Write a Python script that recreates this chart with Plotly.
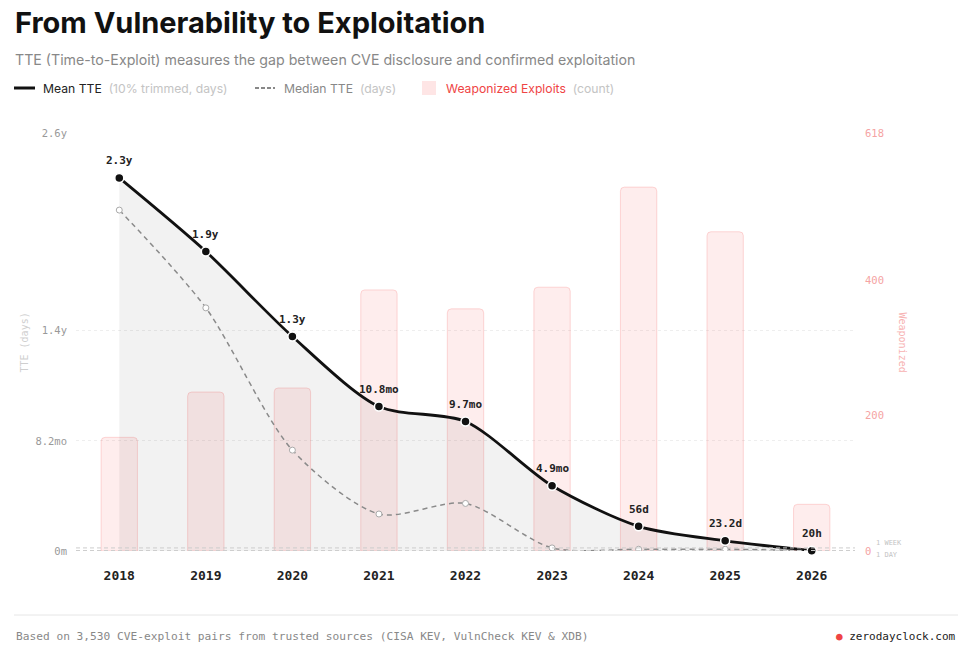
import plotly.graph_objects as go

# ---------------- data ----------------
years = ["2018", "2019", "2020", "2021", "2022", "2023", "2024", "2025", "2026"]
mean_tte_days = [847, 680, 487, 328, 294, 148, 56, 23.2, 0.83]
mean_labels = ["2.3y", "1.9y", "1.3y", "10.8mo", "9.7mo", "4.9mo", "56d", "23.2d", "20h"]
median_tte_days = [774, 552, 229, 84, 108, 7, 4, 4, 0.5]
weaponized_counts = [168, 235, 241, 386, 358, 390, 538, 472, 69]

days_tickvals = [0, 250, 500, 949]
days_ticktext = ["0m", "8.2mo", "1.4y", "2.6y"]
count_tickvals = [0, 200, 400, 618]
count_ticktext = ["0", "200", "400", "618"]
ref_lines = [7, 1]
ref_labels = ["1 WEEK", "1 DAY"]

W, H = 975, 653
def px(x):
    return x / W
def py(y):
    return 1 - y / H

MONO = "DejaVu Sans Mono"
SANS = "Inter"

fig = go.Figure()

# bars (primary y axis, right side, counts)
fig.add_trace(go.Bar(
    x=years, y=weaponized_counts, yaxis="y",
    width=0.42,
    marker=dict(color="rgba(248,113,113,0.13)",
                line=dict(color="rgba(248,113,113,0.25)", width=1),
                cornerradius=4),
    hoverinfo="skip", showlegend=False,
))

# mean TTE with fill
fig.add_trace(go.Scatter(
    x=years, y=mean_tte_days, yaxis="y2",
    mode="lines", line=dict(color="#111111", width=2.8, shape="spline", smoothing=0.8),
    fill="tozeroy", fillcolor="rgba(0,0,0,0.05)",
    hoverinfo="skip", showlegend=False,
))

# median TTE dashed
fig.add_trace(go.Scatter(
    x=years, y=median_tte_days, yaxis="y2",
    mode="lines+markers",
    line=dict(color="#8a8a8a", width=1.5, dash="5px,4px", shape="spline", smoothing=0.8),
    marker=dict(size=6, color="white", line=dict(color="#aaaaaa", width=1)),
    hoverinfo="skip", showlegend=False,
))

# mean markers on top
fig.add_trace(go.Scatter(
    x=years, y=mean_tte_days, yaxis="y2",
    mode="markers",
    marker=dict(size=9, color="#111111", line=dict(color="white", width=1.5)),
    hoverinfo="skip", showlegend=False, cliponaxis=False,
))

annotations = []
shapes = []

# value labels above the mean points (x given as category index)
for i, (v, lab) in enumerate(zip(mean_tte_days, mean_labels)):
    annotations.append(dict(
        x=i, y=v, xref="x", yref="y2", text=lab, showarrow=False,
        yshift=17, font=dict(family=MONO, size=11, color="#222222", weight="bold"),
    ))

# reference lines
for v, lab, dy in zip(ref_lines, ref_labels, [5, -4]):
    shapes.append(dict(type="line", xref="paper", yref="y2",
                       x0=px(76), x1=px(855), y0=v, y1=v,
                       line=dict(color="#cccccc", width=1, dash="4px,3px"), layer="above"))
    annotations.append(dict(x=px(874), y=v, xref="paper", yref="y2", text=lab,
                            showarrow=False, xanchor="left", yanchor="middle", yshift=dy,
                            font=dict(family=MONO, size=7, color="#c4c4c4")))

# title & subtitle
annotations.append(dict(x=px(13), y=py(23), xref="paper", yref="paper", xanchor="left", yanchor="middle",
                        text="From Vulnerability to Exploitation", showarrow=False,
                        font=dict(family=SANS, size=29, color="#111111", weight="bold")))
annotations.append(dict(x=px(13), y=py(60), xref="paper", yref="paper", xanchor="left", yanchor="middle",
                        text="TTE (Time-to-Exploit) measures the gap between CVE disclosure and confirmed exploitation",
                        showarrow=False, font=dict(family=SANS, size=14.2, color="#888888")))

# legend
shapes.append(dict(type="line", xref="paper", yref="paper", x0=px(14), x1=px(35), y0=py(88), y1=py(88),
                   line=dict(color="#111111", width=3)))
annotations.append(dict(x=px(41), y=py(88), xref="paper", yref="paper", xanchor="left", yanchor="middle",
                        showarrow=False,
                        text="Mean TTE  <span style='color:#c4c4c4'>(10% trimmed, days)</span>",
                        font=dict(family=SANS, size=12.2, color="#222222")))
shapes.append(dict(type="line", xref="paper", yref="paper", x0=px(255), x1=px(275), y0=py(88), y1=py(88),
                   line=dict(color="#888888", width=1.8, dash="4px,2px")))
annotations.append(dict(x=px(282), y=py(88), xref="paper", yref="paper", xanchor="left", yanchor="middle",
                        showarrow=False,
                        text="Median TTE  <span style='color:#c4c4c4'>(days)</span>",
                        font=dict(family=SANS, size=12.2, color="#888888")))
shapes.append(dict(type="rect", xref="paper", yref="paper", x0=px(422), x1=px(436), y0=py(95), y1=py(81),
                   fillcolor="rgba(248,113,113,0.18)", line=dict(width=0)))
annotations.append(dict(x=px(444), y=py(88), xref="paper", yref="paper", xanchor="left", yanchor="middle",
                        showarrow=False,
                        text="Weaponized Exploits  <span style='color:#c4c4c4'>(count)</span>",
                        font=dict(family=SANS, size=12.2, color="#ef4444")))

# axis titles
annotations.append(dict(x=px(16), y=py(343), xref="paper", yref="paper", textangle=-90,
                        text="TTE (days)", showarrow=False,
                        font=dict(family=MONO, size=10, color="#cfcfcf")))
annotations.append(dict(x=px(909), y=py(342), xref="paper", yref="paper", textangle=90,
                        text="Weaponized", showarrow=False,
                        font=dict(family=MONO, size=10, color="#f7b2b2")))

# footer
shapes.append(dict(type="line", xref="paper", yref="paper", x0=px(14), x1=px(958), y0=py(615), y1=py(615),
                   line=dict(color="#e6e6e6", width=1)))
annotations.append(dict(x=px(14), y=py(636), xref="paper", yref="paper", xanchor="left", yanchor="middle",
                        showarrow=False,
                        text="Based on 3,530 CVE-exploit pairs from trusted sources (CISA KEV, VulnCheck KEV & XDB)",
                        font=dict(family=MONO, size=11.2, color="#888888")))
annotations.append(dict(x=px(958), y=py(636), xref="paper", yref="paper", xanchor="right", yanchor="middle",
                        showarrow=False,
                        text="<span style='color:#ef4444'>●</span> zerodayclock.com",
                        font=dict(family=MONO, size=11, color="#222222")))

fig.update_layout(
    width=W, height=H,
    margin=dict(l=0, r=0, t=0, b=0, pad=0),
    paper_bgcolor="white", plot_bgcolor="rgba(0,0,0,0)",
    xaxis=dict(type="category", domain=[px(76), px(855)], range=[-0.5, 8.5], automargin=False,
               showgrid=False, zeroline=False, showline=False, ticks="",
               ticklabelstandoff=15,
               tickfont=dict(family=MONO, size=13, color="#222222", weight="bold")),
    yaxis=dict(domain=[py(551), py(133)], range=[0, 618], side="right", automargin=False,
               tickvals=count_tickvals, ticktext=count_ticktext,
               showgrid=False, zeroline=False, showline=False, ticks="",
               ticklabelstandoff=9,
               tickfont=dict(family=MONO, size=10.5, color="#f5a3a3")),
    yaxis2=dict(overlaying="y", side="left", range=[0, 949], automargin=False,
                tickvals=days_tickvals, ticktext=days_ticktext,
                showgrid=True, gridcolor="#eeeeee", griddash="dot", gridwidth=1,
                zeroline=False, showline=False, ticks="",
                ticklabelstandoff=8,
                tickfont=dict(family=MONO, size=10.5, color="#999999")),
    shapes=shapes,
    annotations=annotations,
)

fig.write_html("out.html", config={"displayModeBar": False},
               post_script="document.body.style.margin='0px';")
